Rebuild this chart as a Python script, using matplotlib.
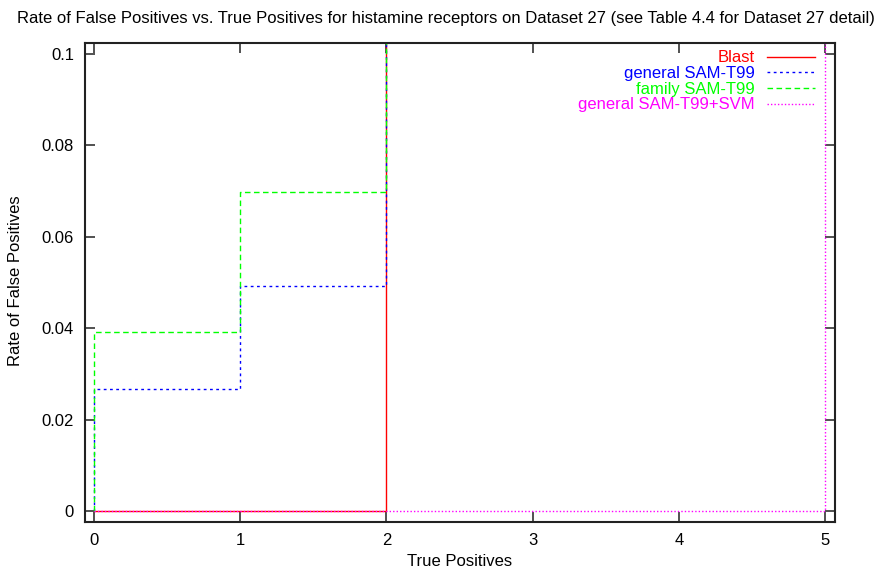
import matplotlib
matplotlib.use("Agg")
import matplotlib.pyplot as plt

# Data (True Positives, Rate of False Positives) - stepped curves
blast_tp = [0, 2, 2]
blast_fpr = [0.0, 0.0, 1.0]

gen_tp = [0, 0, 1, 2]
gen_fpr = [0.0, 0.0267, 0.0493, 1.0]

fam_tp = [0, 0, 1, 2]
fam_fpr = [0.0, 0.0392, 0.0699, 1.0]

svm_tp = [0, 5, 5]
svm_fpr = [0.0, 0.0, 1.0]

x_ticks = [0, 1, 2, 3, 4, 5]
y_ticks = [0, 0.02, 0.04, 0.06, 0.08, 0.1]
y_tick_labels = ["0", "0.02", "0.04", "0.06", "0.08", "0.1"]

plt.rcParams['font.family'] = ['Liberation Sans', 'DejaVu Sans']

W, H = 895, 569
fig = plt.figure(figsize=(W / 100, H / 100), dpi=100)
ax = fig.add_axes([85 / W, 1 - 522 / H, 750 / W, 479 / H])

ax.plot(blast_tp, blast_fpr, color='#ff0000', lw=1.0, label='Blast')
ax.plot(gen_tp, gen_fpr, color='#0000ff', lw=1.0, drawstyle='steps-post',
        linestyle=(0, (2, 2.5)), label='general SAM-T99')
ax.plot(fam_tp, fam_fpr, color='#00ff00', lw=1.0, drawstyle='steps-post',
        linestyle=(0, (4, 2.5)), label='family SAM-T99')
ax.plot(svm_tp, svm_fpr, color='#ff00ff', lw=1.0,
        linestyle=(0, (1, 1.5)), label='general SAM-T99+SVM')

ax.set_xlim(-0.062, 5.068)
ax.set_ylim(-0.0024, 0.1024)
ax.set_xticks(x_ticks)
ax.set_xticklabels([str(t) for t in x_ticks])
ax.set_yticks(y_ticks)
ax.set_yticklabels(y_tick_labels)

ax.tick_params(direction='in', length=7, width=1.2, top=True, right=True,
               labelsize=12, color='#333333', pad=8)
for s in ax.spines.values():
    s.set_linewidth(1.5)
    s.set_color('#222222')

fig.text(446 / W, 1 - 18 / H,
         'Rate of False Positives vs. True Positives for histamine receptors on Dataset 27 (see Table 4.4 for Dataset 27 detail)',
         fontsize=12, ha='center', va='center')
fig.text(460 / W, 1 - 562 / H, 'True Positives', fontsize=12, ha='center', va='center')
fig.text(16 / W, 1 - 281 / H, 'Rate of False Positives', fontsize=12, ha='center',
         va='center', rotation=90)

leg = ax.legend(loc='upper right', bbox_to_anchor=(815 / W, 1 - 50.5 / H),
                bbox_transform=fig.transFigure, frameon=False,
                markerfirst=False, fontsize=12, handlelength=2.9,
                labelspacing=0.04, handletextpad=0.72, borderaxespad=0.0,
                borderpad=0.0)
for txt, line in zip(leg.get_texts(), leg.get_lines()):
    txt.set_color(line.get_color())

fig.savefig('out.png', dpi=100)
